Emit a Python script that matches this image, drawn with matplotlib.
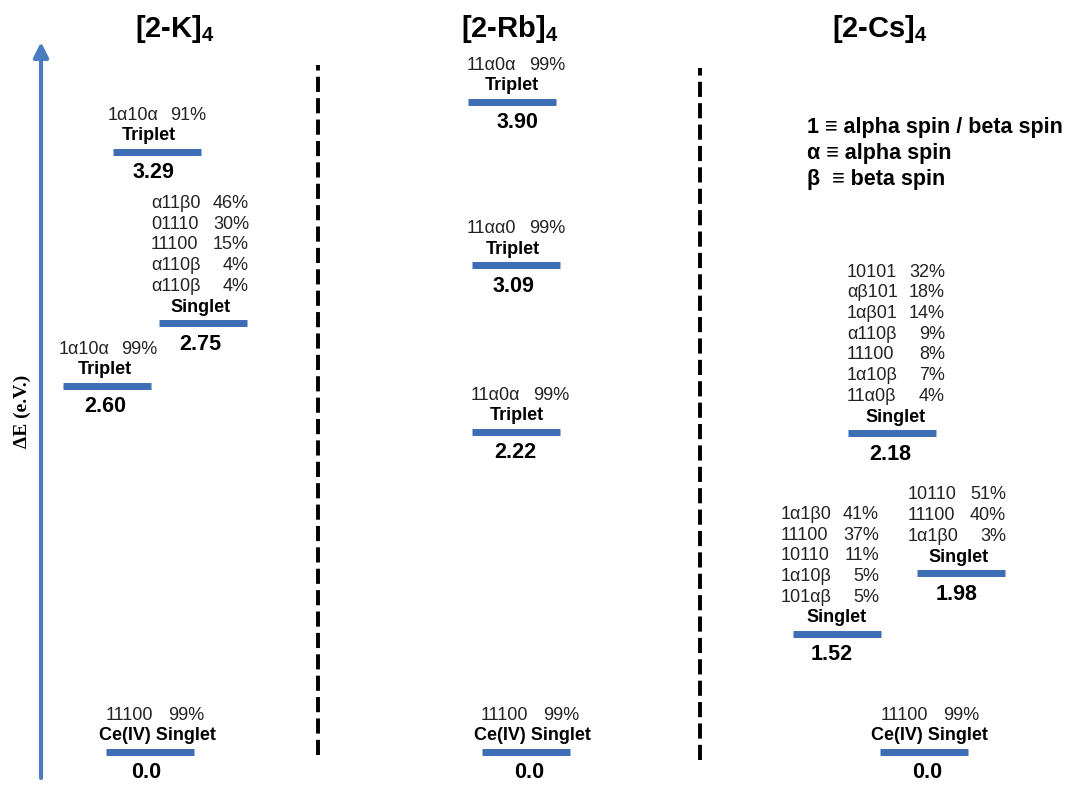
import numpy as np
import matplotlib
matplotlib.use("Agg")
import matplotlib.pyplot as plt

plt.rcParams["font.family"] = ["Liberation Sans", "DejaVu Sans"]
plt.rcParams["mathtext.fontset"] = "custom"
plt.rcParams["mathtext.bf"] = "Liberation Sans:bold"
plt.rcParams["mathtext.rm"] = "Liberation Sans:bold"

# ── Data: excited-state energies (eV), state labels, leading configurations ──
COLUMN_TITLES = ["[2-K]", "[2-Rb]", "[2-Cs]"]

K_ENERGY = [0.0, 2.60, 2.75, 3.29]
K_STATE = ["Ce(IV) Singlet", "Triplet", "Singlet", "Triplet"]
K_CONFIGS = [["11100"], ["1α10α"], ["α11β0", "01110", "11100", "α110β", "α110β"], ["1α10α"]]
K_WEIGHTS = [[99], [99], [46, 30, 15, 4, 4], [91]]

RB_ENERGY = [0.0, 2.22, 3.09, 3.90]
RB_STATE = ["Ce(IV) Singlet", "Triplet", "Triplet", "Triplet"]
RB_CONFIGS = [["11100"], ["11α0α"], ["11αα0"], ["11α0α"]]
RB_WEIGHTS = [[99], [99], [99], [99]]

CS_ENERGY = [0.0, 1.52, 1.98, 2.18]
CS_STATE = ["Ce(IV) Singlet", "Singlet", "Singlet", "Singlet"]
CS_CONFIGS = [["11100"],
              ["1α1β0", "11100", "10110", "1α10β", "101αβ"],
              ["10110", "11100", "1α1β0"],
              ["10101", "αβ101", "1αβ01", "α110β", "11100", "1α10β", "11α0β"]]
CS_WEIGHTS = [[99], [41, 37, 11, 5, 5], [51, 40, 3], [32, 18, 14, 9, 8, 7, 4]]

KEY_LINES = ["1 ≡ alpha spin / beta spin", "α ≡ alpha spin", "β  ≡ beta spin"]

# ── Layout (not data): horizontal placement of bar / config block / state / value ──
K_X = dict(bar=[150, 107, 203, 157], txt=[155, 108, 200, 157],
           state=[157, 105, 201, 149], value=[146, 105, 200, 153])
RB_X = dict(bar=[526, 516, 516, 512], txt=[530, 520, 516, 516],
            state=[532, 517, 513, 512], value=[529, 515, 513, 517])
CS_X = dict(bar=[924, 837, 961, 892], txt=[930, 830, 957, 896],
            state=[929, 837, 959, 896], value=[927, 832, 957, 890])
TITLE_X = [175, 510, 880]

# diagram is not drawn to scale: piecewise display scale for the energy axis
E_ANCHOR = [-0.30, 0.0, 1.52, 1.98, 2.18, 2.22, 2.60, 2.75, 3.09, 3.29, 3.90, 4.60]
H_ANCHOR = [0, 33, 151, 212, 352, 353, 399, 462, 520, 633, 683, 785]

BAR_COLOR = "#3d6db5"
BAR_HALF = 44
LINE_STEP = 20.7
STATE_DY = 16


def fwd(e):
    return np.interp(e, E_ANCHOR, H_ANCHOR)


def inv(h):
    return np.interp(h, H_ANCHOR, E_ANCHOR)


def px(ax, x, energy, dx, dy, s, **kw):
    ax.annotate(s, (x, energy), xytext=(dx, dy), textcoords="offset pixels", **kw)


def draw_level(ax, xb, xt, xs, xv, energy, state, configs, weights):
    ax.hlines(energy, xb - BAR_HALF, xb + BAR_HALF, colors=BAR_COLOR, lw=5)
    value = f"{energy:.1f}" if energy == 0 else f"{energy:.2f}"
    px(ax, xv, energy, 0, -21, value, ha="center", va="center",
       fontsize=15.5, fontweight="bold")
    px(ax, xs, energy, 0, STATE_DY, state, ha="center", va="center",
       fontsize=13, fontweight="bold")
    n = len(configs)
    for i, (cfg, w) in enumerate(zip(configs, weights)):
        dy = STATE_DY + LINE_STEP * (n - i)
        px(ax, xt, energy, -49, dy, cfg, ha="left", va="center",
           fontsize=13, color="#222222")
        px(ax, xt, energy, 49, dy, f"{w}%", ha="right", va="center",
           fontsize=13, color="#222222")


fig = plt.figure(figsize=(10.72, 7.85), dpi=100)
ax = fig.add_axes([0, 0, 1, 1])
ax.set_xlim(0, 1072)
ax.set_yscale("function", functions=(fwd, inv))
ax.set_ylim(E_ANCHOR[0], E_ANCHOR[-1])
ax.axis("off")

columns = [
    (K_X, K_ENERGY, K_STATE, K_CONFIGS, K_WEIGHTS),
    (RB_X, RB_ENERGY, RB_STATE, RB_CONFIGS, RB_WEIGHTS),
    (CS_X, CS_ENERGY, CS_STATE, CS_CONFIGS, CS_WEIGHTS),
]
for lay, energies, states, configs, weights in columns:
    for j, e in enumerate(energies):
        draw_level(ax, lay["bar"][j], lay["txt"][j], lay["state"][j], lay["value"][j],
                   e, states[j], configs[j], weights[j])

tr = ax.get_xaxis_transform()

# column titles
for title, tx in zip(COLUMN_TITLES, TITLE_X):
    ax.text(tx, 1 - 29 / 785, title + r"$_\mathbf{4}$", transform=tr,
            ha="center", va="center", fontsize=21, fontweight="bold")

# dashed separators
ax.axvline(318, ymin=1 - 755 / 785, ymax=1 - 65 / 785, color="black", lw=2.8,
           ls=(0, (3.9, 1.6)))
ax.axvline(700, ymin=1 - 760 / 785, ymax=1 - 68 / 785, color="black", lw=2.8,
           ls=(0, (3.9, 1.6)))

# energy arrow
ax.annotate("", xy=(41, 1 - 42 / 785), xytext=(41, 1 - 778 / 785),
            xycoords=tr, textcoords=tr,
            arrowprops=dict(arrowstyle="-|>", lw=3, color="#4a7cc0", mutation_scale=22,
                            shrinkA=0, shrinkB=0))
ax.text(22, 1 - 411 / 785, "ΔE (e.V.)", transform=tr,
        rotation=90, ha="center", va="center", fontsize=14, fontweight="bold",
        family=["Liberation Serif", "DejaVu Serif"])

# notation key
for i, line in enumerate(KEY_LINES):
    ax.text(807, 1 - (128 + 26 * i) / 785, line, transform=tr,
            ha="left", va="center", fontsize=15.5, fontweight="bold")

fig.savefig("out.png", dpi=100)
